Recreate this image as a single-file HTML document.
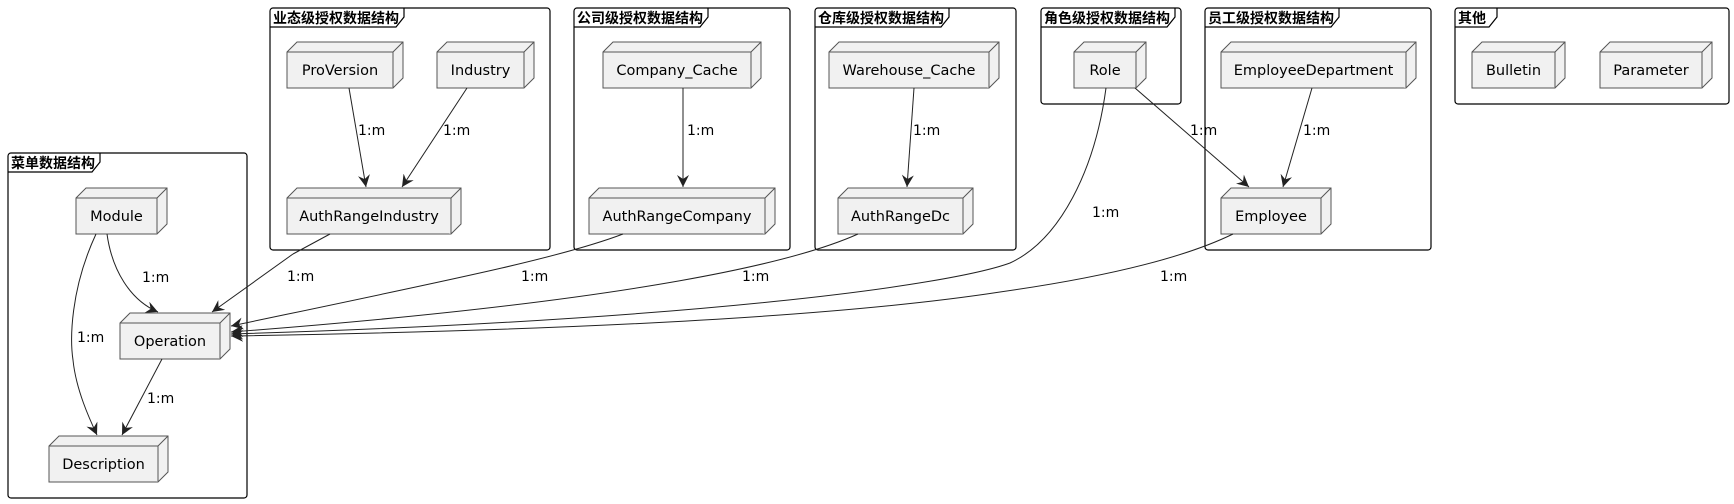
<!DOCTYPE html>
<html><head><meta charset="utf-8"><style>
html,body{margin:0;padding:0;background:#fff;}
svg{display:block;}
text{font-family:"DejaVu Sans","Liberation Sans","Noto Sans CJK SC",sans-serif;}
.f{fill:none;stroke:#000;stroke-width:1.2;}
.n{fill:#f1f1f1;stroke:#555;stroke-width:1;}
.e{fill:none;stroke:#222;stroke-width:1;}
.t{font-weight:bold;font-size:14px;font-family:"Noto Sans CJK SC","WenQuanYi Zen Hei",sans-serif;}
.l{font-size:14px;fill:#000;}
.nl{font-size:14.5px;fill:#000;}
</style></head><body>
<svg width="1734" height="504" viewBox="0 0 1734 504" xmlns="http://www.w3.org/2000/svg">
<defs>
<marker id="a" markerWidth="14" markerHeight="14" refX="12" refY="6" orient="auto" markerUnits="userSpaceOnUse">
<path d="M0,0 L12,6 L0,12 L4,6 Z" fill="#222"/>
</marker>
</defs>

<g>
<rect class="f" x="8" y="153" width="239" height="345" rx="3"/>
<path class="f" d="M8,172 H92 L100,162 V153"/>
<text class="t" x="11" y="168">菜单数据结构</text>

<rect class="f" x="270" y="8" width="280" height="242" rx="3"/>
<path class="f" d="M270,27 H396 L404,17 V8"/>
<text class="t" x="273" y="23">业态级授权数据结构</text>

<rect class="f" x="574" y="8" width="216" height="242" rx="3"/>
<path class="f" d="M574,27 H700 L708,17 V8"/>
<text class="t" x="577" y="23">公司级授权数据结构</text>

<rect class="f" x="815" y="8" width="201" height="242" rx="3"/>
<path class="f" d="M815,27 H941 L949,17 V8"/>
<text class="t" x="818" y="23">仓库级授权数据结构</text>

<rect class="f" x="1041" y="8" width="140" height="96" rx="3"/>
<path class="f" d="M1041,27 H1167 L1175,17 V8"/>
<text class="t" x="1044" y="23">角色级授权数据结构</text>

<rect class="f" x="1205" y="8" width="226" height="242" rx="3"/>
<path class="f" d="M1205,27 H1331 L1339,17 V8"/>
<text class="t" x="1208" y="23">员工级授权数据结构</text>

<rect class="f" x="1455" y="8" width="274" height="96" rx="3"/>
<path class="f" d="M1455,27 H1489 L1497,17 V8"/>
<text class="t" x="1458" y="23">其他</text>
</g>

<g>
<path class="n" d="M287,52 L297,42 H403 V78 L393,88 H287 Z"/><path class="n" d="M287,52 H393 V88 M393,52 L403,42" fill="none"/>
<text class="nl" x="340" y="75" text-anchor="middle">ProVersion</text>

<path class="n" d="M437,52 L447,42 H534 V78 L524,88 H437 Z"/><path class="n" d="M437,52 H524 V88 M524,52 L534,42" fill="none"/>
<text class="nl" x="480.5" y="75" text-anchor="middle">Industry</text>

<path class="n" d="M287,198 L297,188 H461 V224 L451,234 H287 Z"/><path class="n" d="M287,198 H451 V234 M451,198 L461,188" fill="none"/>
<text class="nl" x="369" y="221" text-anchor="middle">AuthRangeIndustry</text>

<path class="n" d="M603,52 L613,42 H761 V78 L751,88 H603 Z"/><path class="n" d="M603,52 H751 V88 M751,52 L761,42" fill="none"/>
<text class="nl" x="677" y="75" text-anchor="middle">Company_Cache</text>

<path class="n" d="M589,198 L599,188 H775 V224 L765,234 H589 Z"/><path class="n" d="M589,198 H765 V234 M765,198 L775,188" fill="none"/>
<text class="nl" x="677" y="221" text-anchor="middle">AuthRangeCompany</text>

<path class="n" d="M829,52 L839,42 H999 V78 L989,88 H829 Z"/><path class="n" d="M829,52 H989 V88 M989,52 L999,42" fill="none"/>
<text class="nl" x="909" y="75" text-anchor="middle">Warehouse_Cache</text>

<path class="n" d="M838,198 L848,188 H973 V224 L963,234 H838 Z"/><path class="n" d="M838,198 H963 V234 M963,198 L973,188" fill="none"/>
<text class="nl" x="900.5" y="221" text-anchor="middle">AuthRangeDc</text>

<path class="n" d="M1074,52 L1084,42 H1146 V78 L1136,88 H1074 Z"/><path class="n" d="M1074,52 H1136 V88 M1136,52 L1146,42" fill="none"/>
<text class="nl" x="1105" y="75" text-anchor="middle">Role</text>

<path class="n" d="M1221,52 L1231,42 H1416 V78 L1406,88 H1221 Z"/><path class="n" d="M1221,52 H1406 V88 M1406,52 L1416,42" fill="none"/>
<text class="nl" x="1313.5" y="75" text-anchor="middle">EmployeeDepartment</text>

<path class="n" d="M1221,198 L1231,188 H1331 V224 L1321,234 H1221 Z"/><path class="n" d="M1221,198 H1321 V234 M1321,198 L1331,188" fill="none"/>
<text class="nl" x="1271" y="221" text-anchor="middle">Employee</text>

<path class="n" d="M1472,52 L1482,42 H1565 V78 L1555,88 H1472 Z"/><path class="n" d="M1472,52 H1555 V88 M1555,52 L1565,42" fill="none"/>
<text class="nl" x="1513.5" y="75" text-anchor="middle">Bulletin</text>

<path class="n" d="M1600,52 L1610,42 H1712 V78 L1702,88 H1600 Z"/><path class="n" d="M1600,52 H1702 V88 M1702,52 L1712,42" fill="none"/>
<text class="nl" x="1651" y="75" text-anchor="middle">Parameter</text>

<path class="n" d="M76,198 L86,188 H167 V224 L157,234 H76 Z"/><path class="n" d="M76,198 H157 V234 M157,198 L167,188" fill="none"/>
<text class="nl" x="116.5" y="221" text-anchor="middle">Module</text>

<path class="n" d="M120,323 L130,313 H230 V349 L220,359 H120 Z"/><path class="n" d="M120,323 H220 V359 M220,323 L230,313" fill="none"/>
<text class="nl" x="170" y="346" text-anchor="middle">Operation</text>

<path class="n" d="M49,446 L59,436 H168 V472 L158,482 H49 Z"/><path class="n" d="M49,446 H158 V482 M158,446 L168,436" fill="none"/>
<text class="nl" x="103.5" y="469" text-anchor="middle">Description</text>
</g>

<g marker-end="url(#a)">
<path class="e" d="M349,88 L366,187"/>
<path class="e" d="M467,88 L402,187"/>
<path class="e" d="M683,88 L683,187"/>
<path class="e" d="M914,88 L907,187"/>
<path class="e" d="M1312,88 L1283,187"/>
<path class="e" d="M1135,88 L1249,187"/>
<path class="e" d="M107,234 C112,270 130,300 158,312"/>
<path class="e" d="M96,234 C70,290 70,340 73,360 C76,390 90,420 97,435"/>
<path class="e" d="M162,359 L122,435"/>
<path class="e" d="M293,254 L212,312"/>
<path class="e" d="M623,234 C560,258 450,280 231,326"/>
<path class="e" d="M858,234 C800,260 650,300 231,332"/>
<path class="e" d="M1106,88 C1095,170 1060,240 1010,263 C950,285 700,320 231,334"/>
<path class="e" d="M1233,234 C1190,255 1120,275 1000,292 C850,315 600,330 231,336"/>
</g>
<path class="e" d="M330,234 L293,254"/>

<g class="l">
<text x="358" y="135">1:m</text>
<text x="443" y="135">1:m</text>
<text x="687" y="135">1:m</text>
<text x="913" y="135">1:m</text>
<text x="1303" y="135">1:m</text>
<text x="1190" y="135">1:m</text>
<text x="1092" y="217">1:m</text>
<text x="142" y="282">1:m</text>
<text x="77" y="342">1:m</text>
<text x="147" y="403">1:m</text>
<text x="287" y="281">1:m</text>
<text x="521" y="281">1:m</text>
<text x="742" y="281">1:m</text>
<text x="1160" y="281">1:m</text>
</g>
</svg>
</body></html>
